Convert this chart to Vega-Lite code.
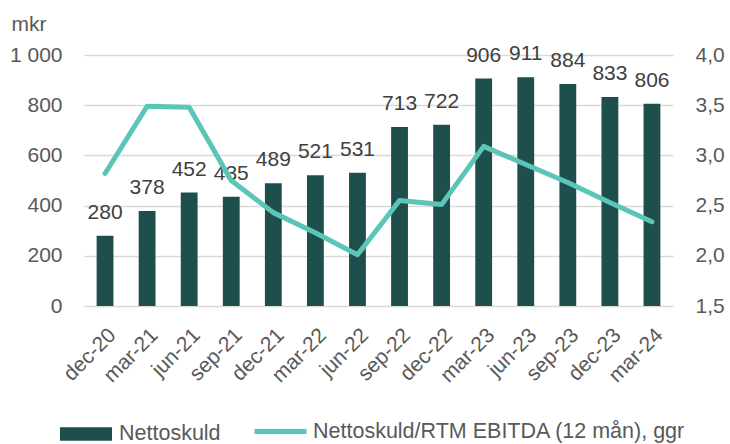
{
  "$schema": "https://vega.github.io/schema/vega-lite/v6.json",
  "width": 589,
  "height": 251,
  "autosize": {"type": "none"},
  "padding": {"left": 84, "top": 55, "right": 57, "bottom": 138},
  "background": "white",
  "config": {
    "view": {"stroke": null},
    "font": "Liberation Sans",
    "axis": {"labelFont": "Liberation Sans", "titleFont": "Liberation Sans"},
    "legend": {"labelFont": "Liberation Sans"}
  },
  "data": {
    "values": [
      {"q": "dec-20", "skuld": 280, "ratio": 2.82},
      {"q": "mar-21", "skuld": 378, "ratio": 3.49},
      {"q": "jun-21", "skuld": 452, "ratio": 3.48},
      {"q": "sep-21", "skuld": 435, "ratio": 2.75},
      {"q": "dec-21", "skuld": 489, "ratio": 2.43},
      {"q": "mar-22", "skuld": 521, "ratio": 2.23},
      {"q": "jun-22", "skuld": 531, "ratio": 2.01},
      {"q": "sep-22", "skuld": 713, "ratio": 2.55},
      {"q": "dec-22", "skuld": 722, "ratio": 2.51},
      {"q": "mar-23", "skuld": 906, "ratio": 3.09},
      {"q": "jun-23", "skuld": 911, "ratio": 2.91},
      {"q": "sep-23", "skuld": 884, "ratio": 2.73},
      {"q": "dec-23", "skuld": 833, "ratio": 2.53},
      {"q": "mar-24", "skuld": 806, "ratio": 2.34}
    ]
  },
  "encoding": {
    "x": {
      "field": "q",
      "type": "nominal",
      "sort": null,
      "scale": {"paddingInner": 0.6, "paddingOuter": 0.3},
      "axis": {
        "title": null,
        "labelAngle": -45,
        "labelFontSize": 21,
        "labelColor": "#595959",
        "labelPadding": 18,
        "ticks": false,
        "domain": false,
        "grid": false
      }
    }
  },
  "layer": [
    {
      "encoding": {
        "y": {
          "field": "skuld",
          "type": "quantitative",
          "scale": {"domain": [0, 1000]},
          "axis": {
            "title": "mkr",
            "titleAngle": 0,
            "titleAlign": "left",
            "titleBaseline": "alphabetic",
            "titleX": -73,
            "titleY": -25,
            "titleFontSize": 21,
            "titleFontWeight": "normal",
            "titleColor": "#595959",
            "values": [0, 200, 400, 600, 800, 1000],
            "labelExpr": "datum.value == 1000 ? '1 000' : datum.label",
            "labelFontSize": 21,
            "labelColor": "#595959",
            "labelPadding": 22,
            "ticks": false,
            "domain": false,
            "grid": true,
            "gridColor": "#D9D9D9",
            "gridWidth": 1.5
          }
        }
      },
      "layer": [
        {
          "mark": {"type": "bar"},
          "encoding": {
            "color": {
              "datum": "Nettoskuld",
              "scale": {"range": ["#1F4F4C"]},
              "legend": {
                "title": null,
                "orient": "none",
                "legendX": -25,
                "legendY": 352,
                "symbolType": "M-1,-0.255H1V0.255H-1Z",
                "symbolSize": 2704,
                "symbolOpacity": 1,
                "labelFontSize": 21.5,
                "labelColor": "#595959",
                "labelOffset": 6,
                "labelLimit": 500
              }
            }
          }
        },
        {
          "mark": {"type": "text", "baseline": "alphabetic", "dy": -17, "fontSize": 21, "color": "#404040"},
          "encoding": {
            "text": {"field": "skuld", "type": "quantitative"}
          }
        }
      ]
    },
    {
      "mark": {"type": "line", "strokeWidth": 5, "strokeCap": "round", "strokeJoin": "round"},
      "encoding": {
        "y": {
          "field": "ratio",
          "type": "quantitative",
          "scale": {"domain": [1.5, 4.0]},
          "axis": {
            "title": null,
            "orient": "right",
            "values": [1.5, 2.0, 2.5, 3.0, 3.5, 4.0],
            "labelExpr": "replace(format(datum.value, '.1f'), '.', ',')",
            "labelFontSize": 21,
            "labelColor": "#595959",
            "labelPadding": 22,
            "ticks": false,
            "domain": false,
            "grid": false
          }
        },
        "stroke": {
          "datum": "Nettoskuld/RTM EBITDA (12 mån), ggr",
          "scale": {"range": ["#5BC5B8"]},
          "legend": {
            "title": null,
            "orient": "none",
            "legendX": 168,
            "legendY": 348,
            "symbolType": "stroke",
            "symbolSize": 2704,
            "symbolStrokeWidth": 5,
            "labelFontSize": 21.5,
            "labelColor": "#595959",
            "labelOffset": 4,
            "labelLimit": 500
          }
        }
      }
    }
  ],
  "resolve": {"scale": {"y": "independent"}}
}
